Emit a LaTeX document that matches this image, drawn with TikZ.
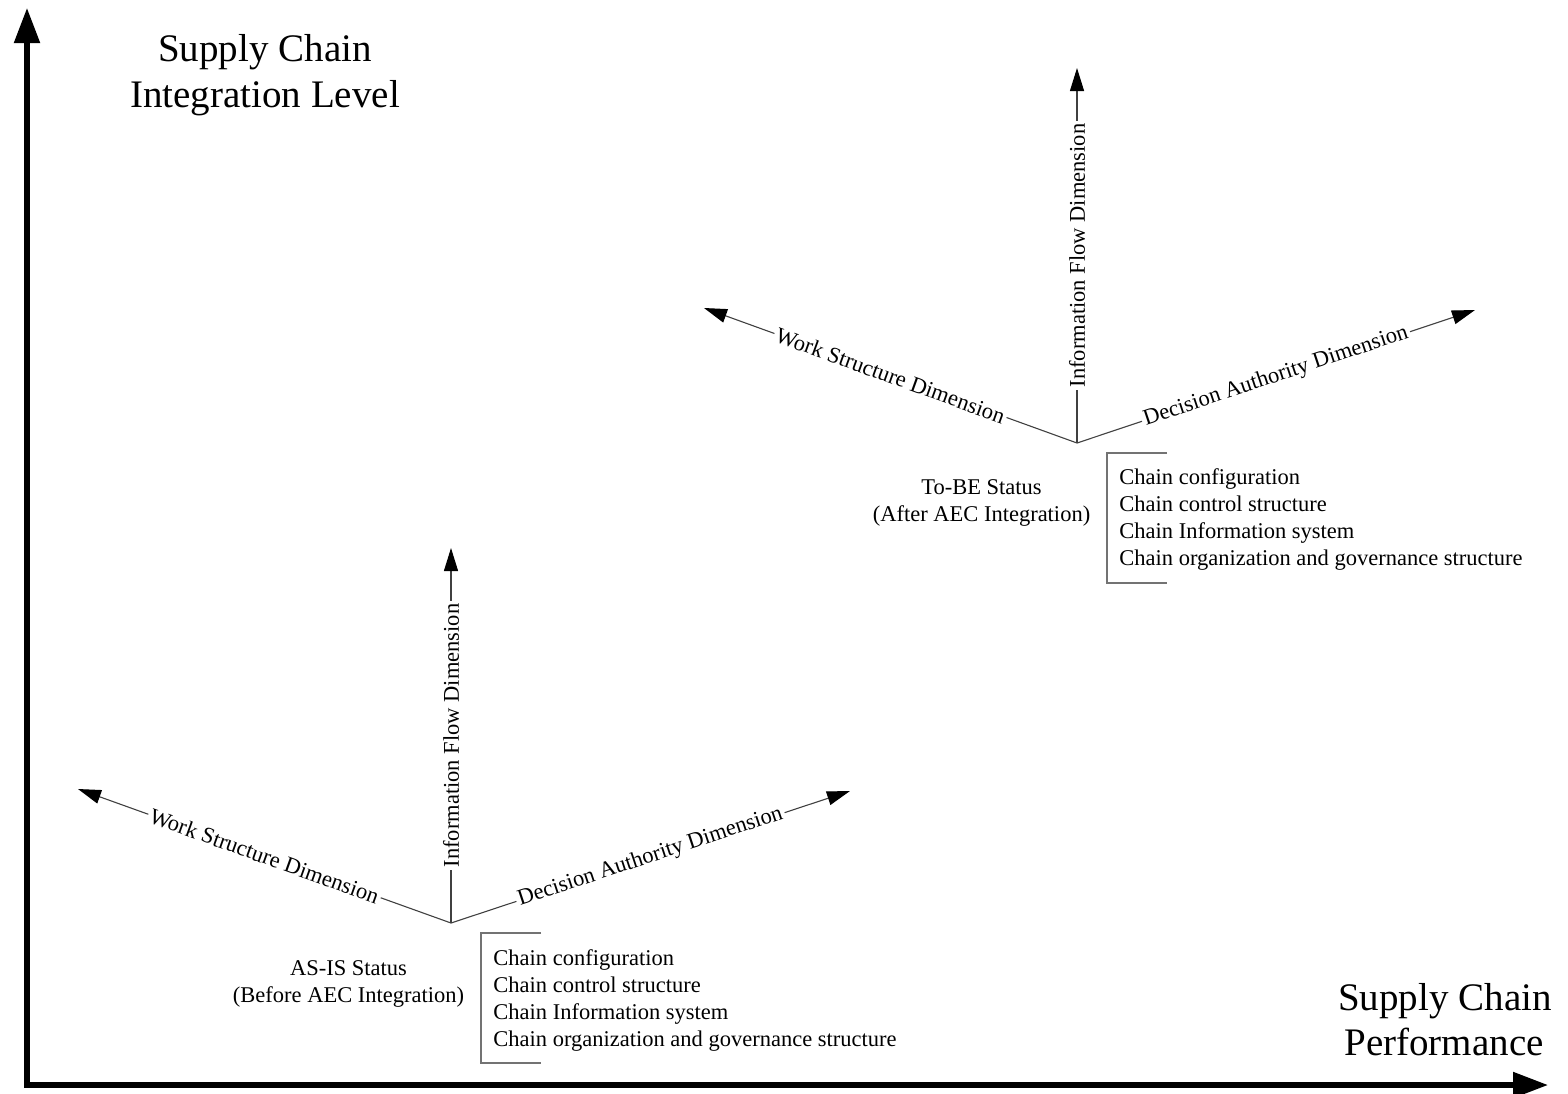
\documentclass[tikz,border=0pt]{standalone}
\usepackage{fontspec}
\setmainfont{Liberation Serif}
\usetikzlibrary{arrows.meta}
\begin{document}
\begin{tikzpicture}[x=0.5pt,y=-0.5pt,
  axis/.style={line width=2.6pt, draw=black, -{Triangle[length=17.5pt,width=12.5pt]}},
  dim/.style={line width=0.55pt, draw=black!75, -{Triangle[length=11.5pt,width=7pt,color=black]}},
  lbl/.style={fill=white, inner sep=1.2pt, font=\fontsize{11.25}{13.5}\selectfont},
  txt/.style={inner sep=0pt, font=\fontsize{11.25}{13.5}\selectfont},
  big/.style={inner sep=0pt, anchor=base, font=\fontsize{19.5}{23}\selectfont},
  brk/.style={line width=0.55pt, draw=black!55}
]
\useasboundingbox (0,0) rectangle (1568,1093);

% main axes
\coordinate (corner) at (27,1085);
\coordinate (ytip) at (27,8);
\coordinate (xtip) at (1548,1085);
\draw[axis] ([yshift=-1.3pt]corner) -- (ytip);
\draw[axis] ([xshift=-1.3pt]corner) -- (xtip);

\node[big] (ylab1) at (265,61) {Supply Chain};
\node[big] (ylab2) at (265,107) {Integration Level};
\node[big] (xlab1) at (1445,1010) {Supply Chain};
\node[big] (xlab2) at (1444,1055) {Performance};

% lower cluster (AS-IS)
\coordinate (o1) at (451,923);
\coordinate (u1) at (451,548);
\coordinate (w1) at (78,789);
\coordinate (d1) at (850,791);
\draw[dim] (o1) -- node[lbl, rotate=90] (if1) {Information Flow Dimension} (u1);
\draw[dim] (o1) -- node[lbl, sloped] (ws1) {Work Structure Dimension} (w1);
\draw[dim] (o1) -- node[lbl, sloped] (da1) {Decision Authority Dimension} (d1);

\node[txt, align=center] (st1) at (348.5,984) {AS-IS Status\\(Before AEC Integration)};
\node[txt, align=left, anchor=west] (li1) at (493,1000) {Chain configuration\\Chain control structure\\Chain Information system\\Chain organization and governance structure};
\draw[brk] (541,933) -- (481,933) -- (481,1063) -- (541,1063);

% upper cluster (To-BE)
\coordinate (o2) at (1077,443);
\coordinate (u2) at (1077,68);
\coordinate (w2) at (704,308);
\coordinate (d2) at (1475,310);
\draw[dim] (o2) -- node[lbl, rotate=90] (if2) {Information Flow Dimension} (u2);
\draw[dim] (o2) -- node[lbl, sloped] (ws2) {Work Structure Dimension} (w2);
\draw[dim] (o2) -- node[lbl, sloped] (da2) {Decision Authority Dimension} (d2);

\node[txt, align=center] (st2) at (981.5,502.5) {To-BE Status\\(After AEC Integration)};
\node[txt, align=left, anchor=west] (li2) at (1119,519.5) {Chain configuration\\Chain control structure\\Chain Information system\\Chain organization and governance structure};
\draw[brk] (1167,453) -- (1107,453) -- (1107,583) -- (1167,583);
\end{tikzpicture}
\end{document}
